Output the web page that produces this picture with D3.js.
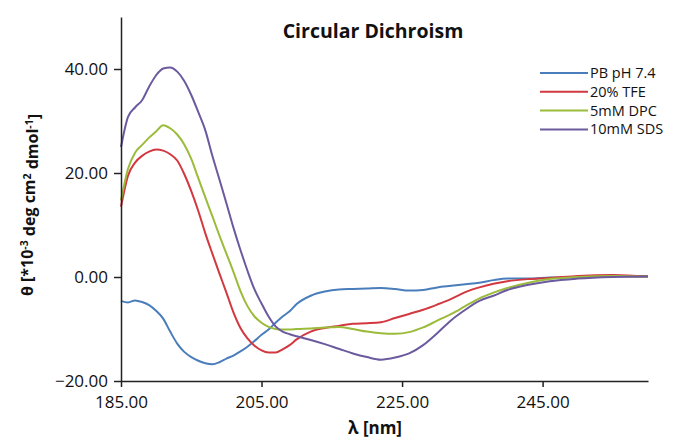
<!DOCTYPE html>
<html>
<head>
<meta charset="utf-8">
<script src="https://cdn.jsdelivr.net/npm/d3@7"></script>
<style>
  body { margin: 0; background: #fff; }
  text { font-family: "Open Sans", sans-serif; fill: #111; }
</style>
</head>
<body>
<div id="chart"></div>
<script>
// wavelengths (nm) shared by all four spectra
var wavelengths = [185,186,187,188,189,190,191,192,193,194,195,196,197,198,199,200,
  201,202,203,204,205,206,207,208,209,210,212,214,216,218,220,222,224,226,228,230,
  232,234,236,238,240,243,246,250,255,260];

var pbValues = [-4.6,-4.9,-4.5,-4.8,-5.4,-6.5,-8.0,-10.5,-12.8,-14.4,-15.4,-16.1,-16.6,-16.8,-16.4,-15.7,
  -15.1,-14.3,-13.4,-12.3,-11.1,-10.1,-8.8,-7.6,-6.6,-5.2,-3.6,-2.8,-2.4,-2.3,-2.2,-2.1,-2.3,-2.6,-2.5,-2.0,
  -1.7,-1.4,-1.1,-0.6,-0.3,-0.3,-0.1,0.0,0.2,0.1];

var tfeValues = [13.5,19.5,22.0,23.3,24.1,24.5,24.3,23.6,22.4,19.8,16.5,12.7,8.4,4.5,0.7,-3.0,
  -6.8,-9.8,-11.8,-13.2,-14.1,-14.5,-14.5,-13.9,-13.1,-12.0,-10.5,-9.8,-9.4,-9.0,-8.9,-8.7,-7.9,-7.1,-6.3,-5.3,
  -4.2,-2.9,-2.0,-1.3,-0.8,-0.4,-0.2,0.2,0.4,0.1];

var dpcValues = [14.7,20.8,23.9,25.4,26.8,28.0,29.2,28.6,27.4,25.5,22.7,19.0,15.3,11.7,8.0,4.5,
  1.0,-2.7,-5.6,-7.6,-8.8,-9.6,-10.0,-10.1,-10.1,-10.0,-9.9,-9.7,-9.6,-10.0,-10.5,-10.8,-10.9,-10.6,-9.7,-8.4,
  -7.1,-5.6,-4.1,-3.0,-2.1,-1.1,-0.4,0.0,0.2,0.0];

var sdsValues = [25.0,30.8,32.6,34.0,36.6,38.8,40.1,40.3,39.5,37.7,35.0,31.7,28.2,23.3,18.8,14.2,
  9.5,5.2,1.2,-2.4,-5.1,-7.6,-9.5,-10.5,-11.0,-11.4,-12.1,-12.9,-13.8,-14.7,-15.4,-15.9,-15.5,-14.7,-13.1,-10.8,
  -8.3,-6.3,-4.6,-3.6,-2.5,-1.5,-0.8,-0.3,0.0,0.1];

var seriesNames = ["PB pH 7.4", "20% TFE", "5mM DPC", "10mM SDS"];
var seriesColors = ["#4a7ebb", "#d2383f", "#9bbb3b", "#6c5a9e"];
var xTicks = [185, 205, 225, 245];
var yTicks = [-20, 0, 20, 40];

var series = [pbValues, tfeValues, dpcValues, sdsValues].map(function (vals, i) {
    return {
        name: seriesNames[i],
        color: seriesColors[i],
        points: wavelengths.map(function (w, j) { return {x: w, y: vals[j]}; })
    };
});

// set the dimensions and margins of the graph
var margin = {top: 17, right: 28, bottom: 62, left: 121},
    width = 676 - margin.left - margin.right,
    height = 443 - margin.top - margin.bottom;

var svgRoot = d3.select("#chart")
    .append("svg")
    .attr("width", 676)
    .attr("height", 443);

var svg = svgRoot.append("g")
    .attr("transform", "translate(" + margin.left + "," + margin.top + ")");

var x = d3.scaleLinear().domain([185, 260]).range([0, width]);
var y = d3.scaleLinear().domain([-20, 50]).range([height, 0]);

// lines
var line = d3.line()
    .x(function (d) { return x(d.x); })
    .y(function (d) { return y(d.y); })
    .curve(d3.curveMonotoneX);

svg.selectAll(".series")
    .data(series)
    .enter()
    .append("path")
    .attr("class", "series")
    .attr("fill", "none")
    .attr("stroke", function (d) { return d.color; })
    .attr("stroke-width", 2)
    .attr("d", function (d) { return line(d.points); });

// X axis
var xAxis = svg.append("g")
    .attr("transform", "translate(0," + height + ")")
    .call(d3.axisBottom(x).tickValues(xTicks).tickFormat(d3.format(".2f")).tickSize(6).tickSizeOuter(0));
xAxis.selectAll("text").style("font-size", "17px").attr("dy", "1.05em");

// Y axis
var yAxis = svg.append("g")
    .call(d3.axisLeft(y).tickValues(yTicks).tickFormat(d3.format(".2f")).tickSize(7).tickSizeOuter(0));
yAxis.selectAll("text").style("font-size", "17px").attr("x", -13);

svg.selectAll(".domain, .tick line").attr("stroke", "#222").attr("stroke-width", 1.5);

// title
svgRoot.append("text")
    .attr("x", 373)
    .attr("y", 38)
    .attr("text-anchor", "middle")
    .style("font-size", "19.5px")
    .style("font-weight", "bold")
    .text("Circular Dichroism");

// x label
svgRoot.append("text")
    .attr("x", 375)
    .attr("y", 434)
    .attr("text-anchor", "middle")
    .style("font-size", "17px")
    .style("font-weight", "bold")
    .text("λ [nm]");

// y label
var yLabel = svgRoot.append("text")
    .attr("transform", "translate(33,205) rotate(-90)")
    .attr("text-anchor", "middle")
    .style("font-size", "16px")
    .style("font-weight", "bold");
yLabel.append("tspan").text("θ [*10");
yLabel.append("tspan").attr("dy", "-0.45em").style("font-size", "10.5px").text("-3");
yLabel.append("tspan").attr("dy", "0.45em").text(" deg cm");
yLabel.append("tspan").attr("dy", "-0.45em").style("font-size", "10.5px").text("2");
yLabel.append("tspan").attr("dy", "0.45em").text(" dmol");
yLabel.append("tspan").attr("dy", "-0.45em").style("font-size", "10.5px").text("-1");
yLabel.append("tspan").attr("dy", "0.45em").text("]");

// legend
var legend = svgRoot.append("g")
    .selectAll("g")
    .data(series)
    .enter()
    .append("g")
    .attr("transform", function (d, i) { return "translate(540," + (73 + i * 18.8) + ")"; });
legend.append("line")
    .attr("x1", 0).attr("x2", 48)
    .attr("stroke", function (d) { return d.color; })
    .attr("stroke-width", 2);
legend.append("text")
    .attr("x", 50)
    .attr("y", 5)
    .style("font-size", "14.5px")
    .text(function (d) { return d.name; });
</script>
</body>
</html>
